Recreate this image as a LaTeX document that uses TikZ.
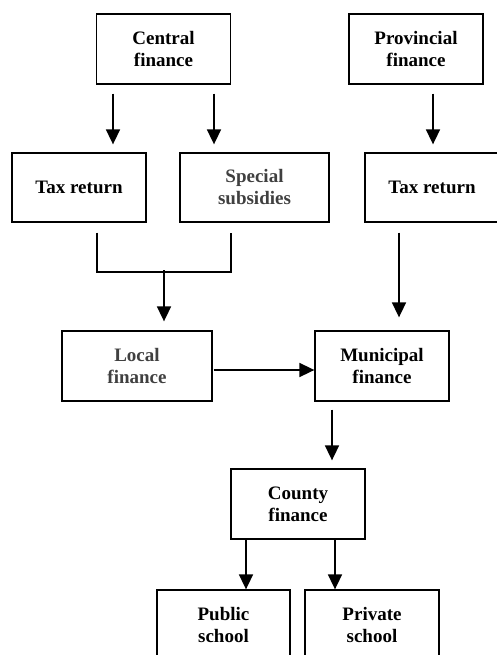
\documentclass[tikz,border=0pt]{standalone}
\usepackage{fontspec}
\setmainfont{Liberation Serif}
\usetikzlibrary{arrows.meta}

\begin{document}
\begin{tikzpicture}[x=1pt,y=-1pt,
    box/.style={draw, line width=1.3pt, align=center, inner sep=0pt,
        minimum width=134pt, minimum height=70pt,
        font=\fontsize{19}{22}\selectfont\bfseries},
    arr/.style={line width=1.7pt, -{Triangle[length=15pt,width=14pt]}},
    seg/.style={line width=1.7pt}]

\useasboundingbox (0,0) rectangle (496,655);

% Top row
\node[box] (central) at (163.5,49) {Central\\finance};
\node[box] (provincial) at (416,49) {Provincial\\finance};

% Second row
\node[box, minimum height=69pt] (taxL) at (79,187.5) {Tax return};
\node[box, minimum width=149pt, minimum height=69pt, text=black!75] (special) at (254.5,187.5) {Special\\subsidies};
\node[box, minimum height=69pt] (taxR) at (432,187.5) {Tax return};

% Middle row
\node[box, minimum width=150pt, text=black!75] (local) at (137,366) {Local\\finance};
\node[box] (municipal) at (382,366) {Municipal\\finance};

% Lower rows
\node[box] (county) at (298,504) {County\\finance};
\node[box, minimum width=133pt] (public) at (223.5,625) {Public\\school};
\node[box] (private) at (372,625) {Private\\school};

% Arrows from the top row
\draw[arr] ([xshift=-50.5pt,yshift=-9pt]central.south) -- ([xshift=34pt,yshift=8pt]taxL.north);
\draw[arr] ([xshift=50.5pt,yshift=-9pt]central.south) -- ([xshift=-40.5pt,yshift=8pt]special.north);
\draw[arr] ([xshift=17pt,yshift=-9pt]provincial.south) -- ([xshift=1pt,yshift=8pt]taxR.north);

% Bracket joining the two left boxes
\coordinate (joinL) at ([xshift=18pt,yshift=-49pt]taxL.south);
\coordinate (joinR) at ([xshift=-23.5pt,yshift=-49pt]special.south);
\coordinate (joinM) at ([xshift=27pt,yshift=60pt]local.north);
\draw[seg] ([xshift=18pt,yshift=-10pt]taxL.south) -- (joinL) -- (joinR) -- ([xshift=-23.5pt,yshift=-10pt]special.south);
\draw[arr] (joinM) -- ([xshift=27pt,yshift=9pt]local.north);

% Right column down to municipal
\draw[arr] ([xshift=-33pt,yshift=-10pt]taxR.south) -- ([xshift=17pt,yshift=13pt]municipal.north);

% Local to municipal
\draw[arr] ([xshift=1pt,yshift=-4pt]local.east) -- ([yshift=-4pt]municipal.west);

% Municipal to county
\draw[arr] ([xshift=-50pt,yshift=-8pt]municipal.south) -- ([xshift=34pt,yshift=8pt]county.north);

% County to schools
\draw[arr] ([xshift=-52pt]county.south) -- ([xshift=22.5pt]public.north);
\draw[arr] ([xshift=37pt]county.south) -- ([xshift=-37pt]private.north);

\end{tikzpicture}
\end{document}
